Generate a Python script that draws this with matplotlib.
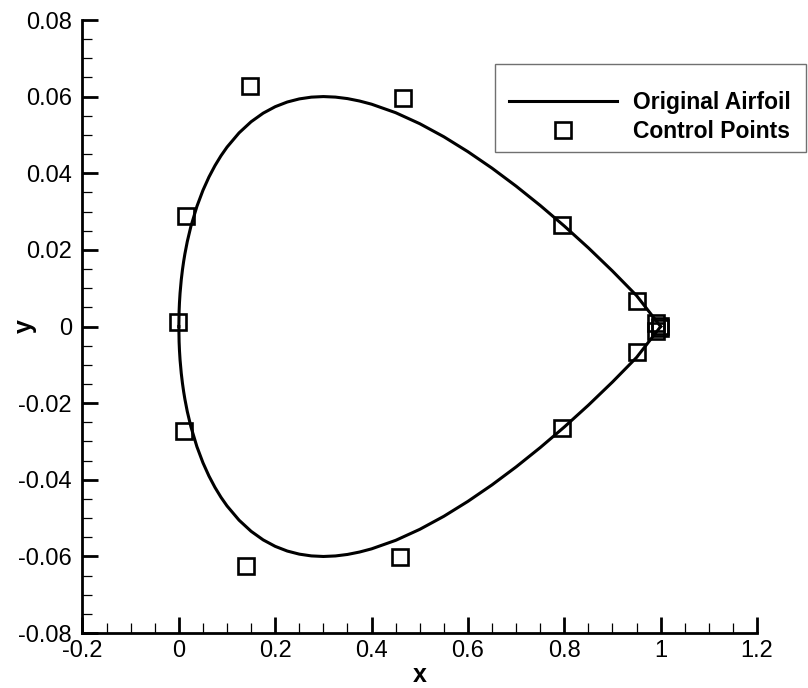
import matplotlib
matplotlib.use("Agg")
import matplotlib.pyplot as plt
from matplotlib.patches import Rectangle

plt.rcParams["font.family"] = ["Liberation Sans", "DejaVu Sans"]
plt.rcParams["axes.unicode_minus"] = False

# Airfoil surface (upper and lower)
x_surface = [0.0, 0.0005, 0.00125, 0.0025, 0.005, 0.0075, 0.01, 0.0125, 0.0175,
             0.025, 0.0375, 0.05, 0.0625, 0.075, 0.0875, 0.1, 0.125, 0.15,
             0.175, 0.2, 0.225, 0.25, 0.275, 0.3, 0.325, 0.35, 0.375, 0.4,
             0.45, 0.5, 0.55, 0.6, 0.65, 0.7, 0.75, 0.8, 0.85, 0.9, 0.95, 1.0]
y_upper = [0.0, 0.00395, 0.0062, 0.00872, 0.01221, 0.01485, 0.01704, 0.01894,
           0.02218, 0.02615, 0.03137, 0.03555, 0.03903, 0.0420, 0.04458,
           0.04683, 0.05055, 0.05345, 0.05569, 0.05738, 0.0586, 0.05941,
           0.05987, 0.06002, 0.05988, 0.05949, 0.05886, 0.05803, 0.05581,
           0.05294, 0.04953, 0.04563, 0.04133, 0.03664, 0.0316, 0.02623,
           0.02053, 0.01448, 0.00807, 0.0]
y_lower = [0.0, -0.00395, -0.0062, -0.00872, -0.01221, -0.01485, -0.01704,
           -0.01894, -0.02218, -0.02615, -0.03137, -0.03555, -0.03903, -0.0420,
           -0.04458, -0.04683, -0.05055, -0.05345, -0.05569, -0.05738, -0.0586,
           -0.05941, -0.05987, -0.06002, -0.05988, -0.05949, -0.05886, -0.05803,
           -0.05581, -0.05294, -0.04953, -0.04563, -0.04133, -0.03664, -0.0316,
           -0.02623, -0.02053, -0.01448, -0.00807, 0.0]

# Control points
cp_x = [0.998, 0.990, 0.951, 0.796, 0.465, 0.148, 0.015, -0.002, 0.011, 0.139,
        0.459, 0.796, 0.951, 0.990, 0.998]
cp_y = [0.0002, 0.0010, 0.0067, 0.0265, 0.0596, 0.0628, 0.0288, 0.0012, -0.0273,
        -0.0625, -0.0602, -0.0265, -0.0067, -0.0012, -0.0004]

x_ticks = [-0.2, 0, 0.2, 0.4, 0.6, 0.8, 1, 1.2]
x_tick_labels = ["-0.2", "0", "0.2", "0.4", "0.6", "0.8", "1", "1.2"]
y_ticks = [-0.08, -0.06, -0.04, -0.02, 0, 0.02, 0.04, 0.06, 0.08]
y_tick_labels = ["-0.08", "-0.06", "-0.04", "-0.02", "0", "0.02", "0.04", "0.06", "0.08"]

fig = plt.figure(figsize=(8.08, 6.88), dpi=100)
ax = fig.add_axes([0.1021, 0.0799, 0.8348, 0.891])

line, = ax.plot(x_surface, y_upper, color="black", lw=2.2)
ax.plot(x_surface, y_lower, color="black", lw=2.2)
pts, = ax.plot(cp_x, cp_y, ls="none", marker="s", ms=11.5, mfc="none",
               mec="black", mew=1.9)

ax.set_xlim(-0.2, 1.2)
ax.set_ylim(-0.08, 0.08)
ax.set_xticks(x_ticks)
ax.set_xticklabels(x_tick_labels)
ax.set_yticks(y_ticks)
ax.set_yticklabels(y_tick_labels)
ax.set_xticks([i * 0.05 - 0.2 for i in range(29)], minor=True)
ax.set_yticks([i * 0.005 - 0.08 for i in range(33)], minor=True)

for side in ["top", "right"]:
    ax.spines[side].set_visible(False)
for side in ["left", "bottom"]:
    ax.spines[side].set_linewidth(2.0)

ax.tick_params(which="major", direction="in", length=11.5, width=2.0,
               labelsize=17, pad=7.5)
ax.tick_params(which="minor", direction="in", length=7, width=0.9)
ax.tick_params(axis="x", which="major", pad=5)

ax.set_xlabel("x", fontsize=18, fontweight="bold", labelpad=0.5)
ax.set_ylabel("y", fontsize=18, fontweight="bold")
ax.yaxis.set_label_coords(-0.068, 0.5)

# Legend box
fig.patches.append(Rectangle((0.6126, 0.7791), 0.3849, 0.1279,
                             transform=fig.transFigure, facecolor="white",
                             edgecolor="#707070", lw=1.0))
leg = fig.legend([line, pts], ["Original Airfoil", "Control Points"],
                 loc="upper left", bbox_to_anchor=(509 / 808, 1 - 91.5 / 688),
                 frameon=False, borderpad=0, borderaxespad=0,
                 handlelength=4.7, handletextpad=0.7, labelspacing=0.22,
                 prop={"weight": "bold", "size": 16.5})

plt.savefig("out.png", dpi=100)
